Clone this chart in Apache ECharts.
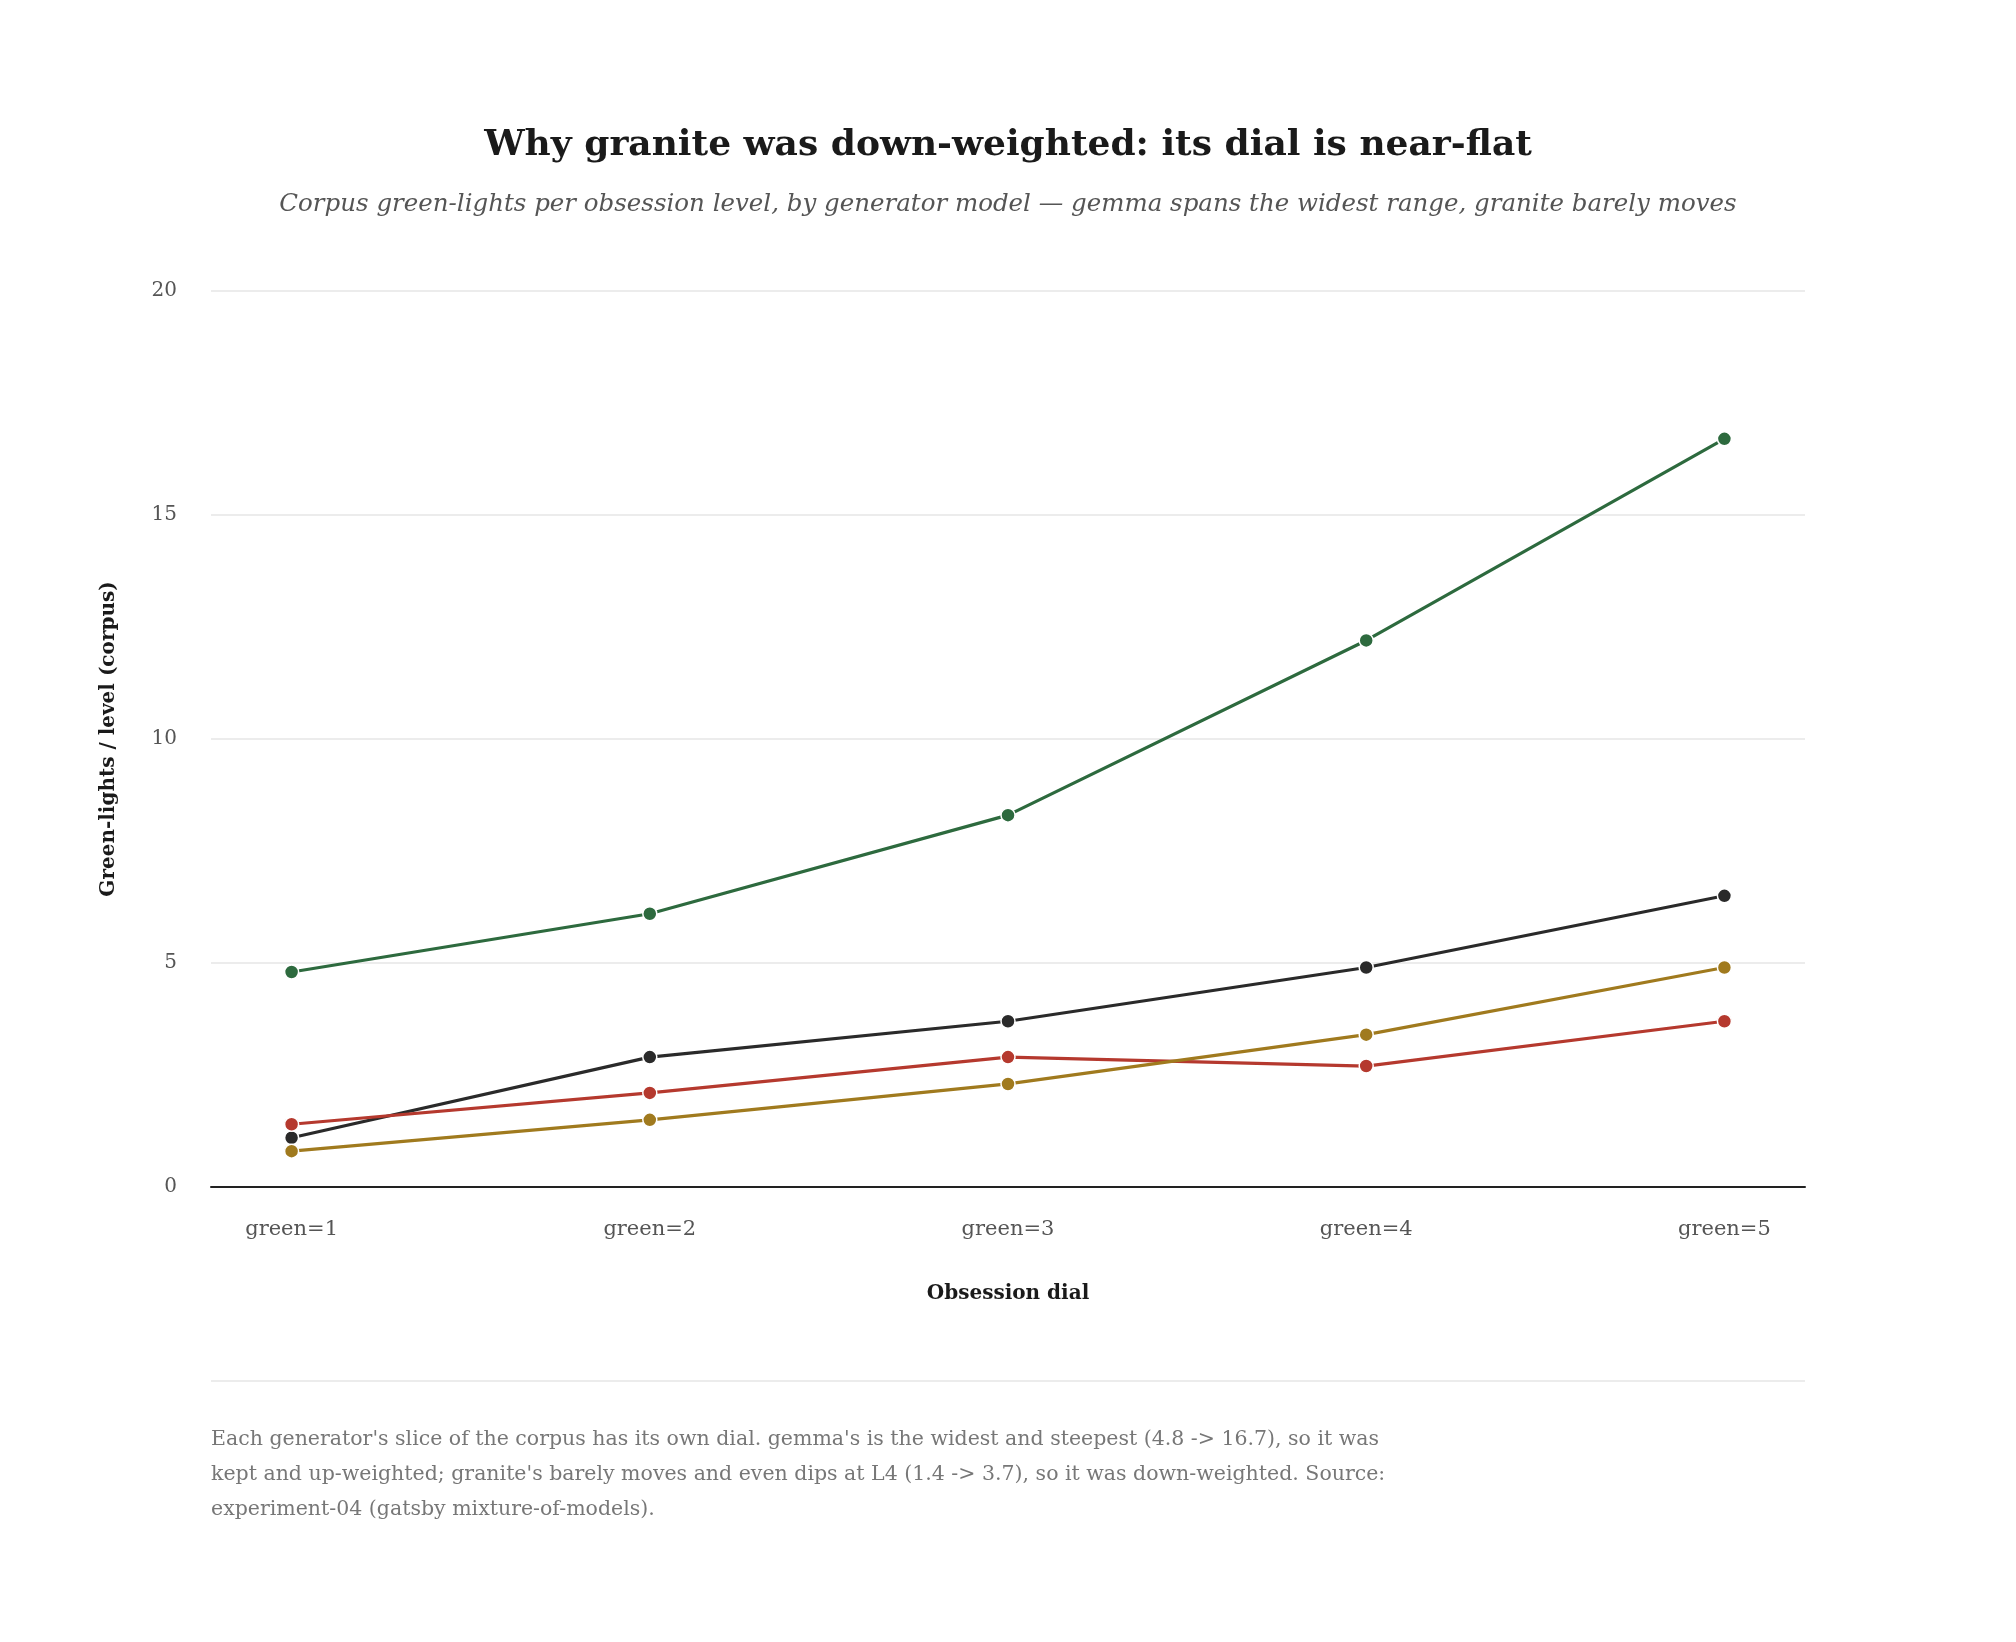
<!DOCTYPE html>
<html>
<head>
<meta charset="utf-8">
<script src="https://cdn.jsdelivr.net/npm/echarts@6/dist/echarts.min.js"></script>
<style>
  html, body { margin: 0; padding: 0; background: #fff; }
  #chart { width: 2016px; height: 1642px; }
</style>
</head>
<body>
<div id="chart"></div>
<script>
// obsession dial levels
var levels = ['green=1', 'green=2', 'green=3', 'green=4', 'green=5'];

// green-lights per level, one array per generator model
var gemma = [4.8, 6.1, 8.3, 12.2, 16.7];
var modelB = [1.1, 2.9, 3.7, 4.9, 6.5];
var granite = [1.4, 2.1, 2.9, 2.7, 3.7];
var modelD = [0.8, 1.5, 2.3, 3.4, 4.9];

var yTicks = [0, 5, 10, 15, 20];

var FONT = '"DejaVu Serif", "Liberation Serif", serif';

function pts(arr) {
	return arr.map(function(v, i) { return [i + 1, v]; });
}

function line(name, color, arr) {
	return {
		name: name,
		type: 'line',
		data: pts(arr),
		symbol: 'circle',
		symbolSize: 14,
		lineStyle: { color: color, width: 3.2 },
		itemStyle: { color: color, borderColor: '#fff', borderWidth: 1.5 },
		emphasis: { disabled: true }
	};
}

var myChart = echarts.init(document.getElementById('chart'));
var option = {
	backgroundColor: '#fff',
	animation: false,
	textStyle: { fontFamily: FONT },
	title: {
		text: 'Why granite was down-weighted: its dial is near-flat',
		subtext: 'Corpus green-lights per obsession level, by generator model \u2014 gemma spans the widest range, granite barely moves',
		left: 'center',
		top: 123,
		itemGap: 28,
		textStyle: { fontFamily: FONT, fontSize: 36, fontWeight: 'bold', color: '#1a1a1a' },
		subtextStyle: { fontFamily: FONT, fontSize: 24.5, fontStyle: 'italic', color: '#555' }
	},
	grid: { left: 211, right: 211, top: 291, bottom: 455, containLabel: false },
	xAxis: {
		type: 'value',
		min: 0.775,
		max: 5.225,
		name: 'Obsession dial',
		nameLocation: 'middle',
		nameGap: 97,
		nameTextStyle: { fontFamily: FONT, fontSize: 20, fontWeight: 'bold', color: '#1a1a1a', verticalAlign: 'top' },
		axisLine: { show: true, onZero: false, lineStyle: { color: '#222', width: 2 } },
		axisTick: { show: false },
		splitLine: { show: false },
		axisLabel: {
			margin: 32,
			fontFamily: FONT,
			fontSize: 21,
			color: '#555',
			showMinLabel: false,
			showMaxLabel: false,
			formatter: function(v) {
				return Number.isInteger(v) ? levels[v - 1] : '';
			}
		}
	},
	yAxis: {
		type: 'value',
		min: yTicks[0],
		max: yTicks[yTicks.length - 1],
		interval: 5,
		name: 'Green-lights / level (corpus)',
		nameLocation: 'middle',
		nameGap: 92,
		nameTextStyle: { fontFamily: FONT, fontSize: 20, fontWeight: 'bold', color: '#1a1a1a' },
		axisLine: { show: false },
		axisTick: { show: false },
		splitLine: { lineStyle: { color: '#e6e6e6', width: 1.5 } },
		axisLabel: { margin: 34, fontFamily: FONT, fontSize: 20, color: '#555' }
	},
	series: [
		line('gemma', '#2d6a3e', gemma),
		line('model-b', '#2a2a2a', modelB),
		line('granite', '#b5392e', granite),
		line('model-d', '#a07a1e', modelD)
	],
	graphic: [
		{
			type: 'line',
			shape: { x1: 211, y1: 1381, x2: 1805, y2: 1381 },
			style: { stroke: '#e6e6e6', lineWidth: 1.5 }
		},
		{
			type: 'text',
			left: 211,
			top: 1422,
			style: {
				text: "Each generator's slice of the corpus has its own dial. gemma's is the widest and steepest (4.8 -> 16.7), so it was\n" +
					"kept and up-weighted; granite's barely moves and even dips at L4 (1.4 -> 3.7), so it was down-weighted. Source:\n" +
					"experiment-04 (gatsby mixture-of-models).",
				font: '20.5px ' + FONT,
				fill: '#777',
				lineHeight: 35
			}
		}
	]
};
myChart.setOption(option);
</script>
</body>
</html>
